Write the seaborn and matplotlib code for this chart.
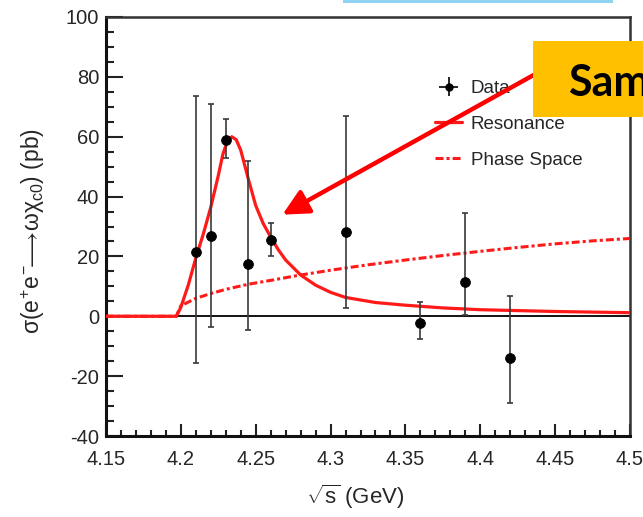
import numpy as np
import pandas as pd
import matplotlib
matplotlib.use("Agg")
import matplotlib.pyplot as plt
import seaborn as sns
from matplotlib.patches import Rectangle, FancyArrowPatch
from matplotlib.lines import Line2D

# ---------------- data ----------------
data_x = [4.21, 4.22, 4.23, 4.245, 4.26, 4.31, 4.36, 4.39, 4.42]
data_y = [21.6, 26.8, 59.0, 17.6, 25.4, 28.0, -2.4, 11.5, -14.0]
err_hi = [73.5, 71.0, 65.8, 52.0, 31.3, 67.0, 4.7, 34.5, 6.7]
err_lo = [-15.7, -3.7, 53.0, -4.7, 20.2, 2.8, -7.7, 0.3, -29.0]

res_x = [4.15, 4.197, 4.200, 4.205, 4.210, 4.215, 4.220, 4.225, 4.228, 4.231,
         4.234, 4.237, 4.240, 4.245, 4.250, 4.255, 4.260, 4.265, 4.270, 4.280,
         4.290, 4.300, 4.310, 4.330, 4.350, 4.375, 4.400, 4.450, 4.500]
res_y = [0.0, 0.0, 3.0, 10.5, 19.5, 27.5, 36.5, 47.0, 54.0, 58.5,
         60.0, 59.0, 55.5, 46.0, 37.0, 31.0, 26.5, 22.3, 18.8, 13.8,
         10.4, 8.0, 6.3, 4.6, 3.7, 2.8, 2.2, 1.6, 1.2]

ps_x = [4.15, 4.197, 4.199, 4.200, 4.210, 4.220, 4.230, 4.245, 4.260, 4.280,
        4.300, 4.325, 4.350, 4.375, 4.400, 4.425, 4.450, 4.475, 4.500]
ps_y = [0.0, 0.0, 2.5, 3.5, 6.0, 7.6, 9.0, 10.7, 12.0, 13.8,
        15.4, 17.2, 18.8, 20.3, 21.7, 23.0, 24.2, 25.2, 26.0]

x_ticks = [4.15, 4.2, 4.25, 4.3, 4.35, 4.4, 4.45, 4.5]
x_ticklabels = ["4.15", "4.2", "4.25", "4.3", "4.35", "4.4", "4.45", "4.5"]
y_ticks = [-40, -20, 0, 20, 40, 60, 80, 100]
legend_labels = ["Data", "Resonance", "Phase Space"]

# ---------------- style ----------------
sns.set_theme(style="white")
plt.rcParams["font.family"] = ["Liberation Sans", "DejaVu Sans"]
plt.rcParams["axes.unicode_minus"] = False
plt.rcParams["mathtext.fontset"] = "custom"
plt.rcParams["mathtext.rm"] = "Liberation Sans"
plt.rcParams["mathtext.it"] = "Liberation Sans"
plt.rcParams["mathtext.bf"] = "Liberation Sans:bold"

RED = "#ff1a1a"
DASHDOT = (0, (2.6, 1.0, 1.0, 1.0))

W, H = 643, 517
fig = plt.figure(figsize=(W / 100, H / 100), dpi=100)
ax = fig.add_axes([106 / W, 1 - 436 / H, (630 - 106) / W, (436 - 17) / H])

res_df = pd.DataFrame({"x": res_x, "y": res_y})
ps_df = pd.DataFrame({"x": ps_x, "y": ps_y})
pts_df = pd.DataFrame({"x": data_x, "y": data_y})

ax.axhline(0, color="black", lw=1.3, zorder=1)

sns.lineplot(data=ps_df, x="x", y="y", ax=ax, color=RED, lw=2.2,
             linestyle=DASHDOT, zorder=3, label="_ps")
sns.lineplot(data=res_df, x="x", y="y", ax=ax, color=RED, lw=2.3,
             zorder=4, label="_res")

yerr = np.array([np.array(data_y) - np.array(err_lo),
                 np.array(err_hi) - np.array(data_y)])
ax.errorbar(data_x, data_y, yerr=yerr, fmt="none", ecolor="#3a3a3a",
            elinewidth=1.2, capsize=2, capthick=1.2, zorder=5)
sns.scatterplot(data=pts_df, x="x", y="y", ax=ax, color="black", s=50,
                edgecolor="black", zorder=6, legend=False)

# legend handles
h_data = ax.errorbar([np.nan], [np.nan], xerr=[1], yerr=[1], fmt="o",
                     color="black", ms=5, elinewidth=1.2)
h_res = Line2D([], [], color=RED, lw=2.3)
h_ps = Line2D([], [], color=RED, lw=2.2, linestyle=DASHDOT)
ax.legend([h_data, h_res, h_ps], legend_labels,
          loc="upper left", bbox_to_anchor=(435 / W, 1 - 80 / H),
          bbox_transform=fig.transFigure, frameon=False,
          fontsize=13.5, handlelength=1.45, handletextpad=0.45,
          labelspacing=1.0, borderpad=0, borderaxespad=0)

ax.set_xlim(4.15, 4.5)
ax.set_ylim(-40, 100)
ax.set_xticks(x_ticks)
ax.set_xticklabels(x_ticklabels)
ax.set_yticks(y_ticks)
ax.set_xticks(np.arange(4.15, 4.5001, 0.01), minor=True)
ax.set_yticks(np.arange(-40, 100.1, 5), minor=True)
ax.tick_params(axis="x", which="major", direction="in", length=8.6, width=1.5,
               labelsize=14.5, pad=10, color="#222222", bottom=True)
ax.tick_params(axis="x", which="minor", direction="in", length=4.3, width=1.5,
               color="#222222", bottom=True)
ax.tick_params(axis="y", which="major", direction="in", length=12, width=1.5,
               labelsize=14.5, pad=5, color="#222222", left=True)
ax.tick_params(axis="y", which="minor", direction="in", length=6, width=1.5,
               color="#222222", left=True)
for s in ["left", "bottom"]:
    ax.spines[s].set_linewidth(2.2)
    ax.spines[s].set_color("#111111")
for s in ["top", "right"]:
    ax.spines[s].set_linewidth(1.8)
    ax.spines[s].set_color("#333333")

ax.set_xlabel(r"$\sqrt{s}$ (GeV)", fontsize=16)
ax.xaxis.set_label_coords(0.475, -0.112)
ax.set_ylabel(r"$\sigma(e^{+}e^{-}\!\!\longrightarrow\!\omega\chi_{c0})$ (pb)",
              fontsize=16.5)
ax.yaxis.set_label_coords(-0.113, 0.49)

# overlays: light blue box at top, red arrow, yellow box
fig.add_artist(Rectangle((343 / W, 1 - 3 / H), (613 - 343) / W, 3 / H,
                         transform=fig.transFigure, facecolor="#8fd3f2",
                         edgecolor="none", zorder=10))
arrow = FancyArrowPatch((575 / W, 1 - 52 / H), (280 / W, 1 - 216 / H),
                        transform=fig.transFigure, color="#ff0000",
                        arrowstyle="-|>,head_length=1.2,head_width=0.6",
                        mutation_scale=13, lw=3.2, zorder=11)
fig.add_artist(arrow)
fig.add_artist(Rectangle((533 / W, 1 - 117 / H), (W - 533) / W, 76 / H,
                         transform=fig.transFigure, facecolor="#ffc000",
                         edgecolor="none", zorder=12))
fig.text(568 / W, 1 - 96 / H, "Sam", fontsize=31, fontweight="bold",
         family=["Lato", "DejaVu Sans"], color="black", ha="left",
         va="baseline", zorder=13)

fig.savefig("out.png", dpi=100)
